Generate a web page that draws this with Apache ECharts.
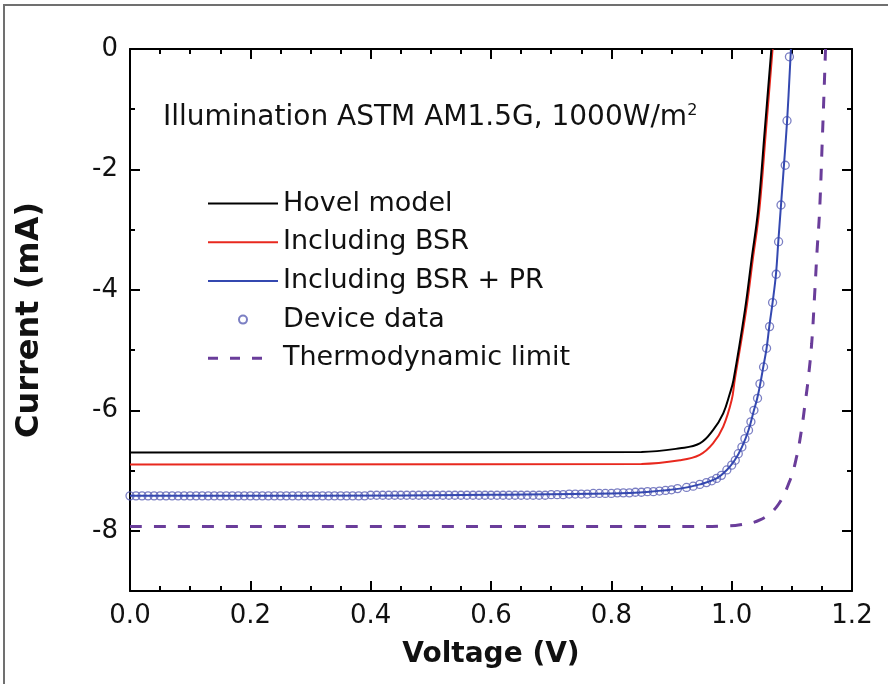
<!DOCTYPE html>
<html>
<head>
<meta charset="utf-8">
<script src="https://cdn.jsdelivr.net/npm/echarts@6/dist/echarts.min.js"></script>
<style>
  html, body { margin: 0; padding: 0; background: #fff; }
  #main { width: 888px; height: 684px; }
</style>
</head>
<body>
<div id="main"></div>
<script>
// 曲線資料 [電壓 V, 電流 mA]
var hovelModel = [[0, -6.70], [0.85, -6.69], [0.914, -6.63], [0.947, -6.55], [0.969, -6.33], [0.986, -6.05],
  [0.997, -5.72], [1.003, -5.50], [1.022, -4.34], [1.033, -3.50], [1.044, -2.67], [1.055, -1.35], [1.066, 0]];

var includingBSR = [[0, -6.90], [0.85, -6.89], [0.914, -6.83], [0.947, -6.74], [0.969, -6.55], [0.986, -6.27],
  [1.0, -5.83], [1.005, -5.50], [1.024, -4.34], [1.035, -3.50], [1.046, -2.67], [1.057, -1.35], [1.068, 0]];

var includingBSRPR = [[0, -7.42], [0.3, -7.42], [0.6, -7.40], [0.8, -7.38], [0.864, -7.35], [0.914, -7.30],
  [0.947, -7.23], [0.975, -7.13], [0.992, -6.99], [1.005, -6.83], [1.017, -6.61], [1.028, -6.33], [1.037, -6.00],
  [1.0425, -5.80], [1.0475, -5.56], [1.0525, -5.28], [1.058, -4.97], [1.0625, -4.61], [1.068, -4.21],
  [1.0736, -3.74], [1.0775, -3.20], [1.082, -2.59], [1.0875, -1.85], [1.0925, -1.13], [1.0985, 0]];

var thermoLimit = [[0, -7.93], [0.95, -7.93], [0.99, -7.92], [1.014, -7.90], [1.047, -7.82], [1.075, -7.60],
  [1.097, -7.16], [1.108, -6.77], [1.116, -6.33], [1.122, -5.89], [1.127, -5.50], [1.133, -4.89], [1.138, -4.06],
  [1.142, -3.34], [1.146, -2.72], [1.1505, -1.55], [1.155, -0.30], [1.156, 0]];

// 元件量測點
var deviceVoltage = [
  0.00, 0.01, 0.02, 0.03, 0.04, 0.05, 0.06, 0.07, 0.08, 0.09,
  0.10, 0.11, 0.12, 0.13, 0.14, 0.15, 0.16, 0.17, 0.18, 0.19,
  0.20, 0.21, 0.22, 0.23, 0.24, 0.25, 0.26, 0.27, 0.28, 0.29,
  0.30, 0.31, 0.32, 0.33, 0.34, 0.35, 0.36, 0.37, 0.38, 0.39,
  0.40, 0.41, 0.42, 0.43, 0.44, 0.45, 0.46, 0.47, 0.48, 0.49,
  0.50, 0.51, 0.52, 0.53, 0.54, 0.55, 0.56, 0.57, 0.58, 0.59,
  0.60, 0.61, 0.62, 0.63, 0.64, 0.65, 0.66, 0.67, 0.68, 0.69,
  0.70, 0.71, 0.72, 0.73, 0.74, 0.75, 0.76, 0.77, 0.78, 0.79,
  0.80, 0.81, 0.82, 0.83, 0.84, 0.85, 0.86, 0.87, 0.88, 0.89,
  0.90, 0.91,
  0.925, 0.936, 0.947, 0.958, 0.967, 0.975, 0.983, 0.992, 1.000, 1.006,
  1.011, 1.017, 1.022, 1.028, 1.032, 1.037, 1.043, 1.047, 1.053, 1.058,
  1.063, 1.068, 1.074, 1.078, 1.082, 1.089, 1.092, 1.096];
var deviceCurrent = [
  -7.42, -7.42, -7.42, -7.42, -7.42, -7.42, -7.42, -7.42, -7.42, -7.42,
  -7.42, -7.42, -7.42, -7.42, -7.42, -7.42, -7.42, -7.42, -7.42, -7.42,
  -7.42, -7.42, -7.42, -7.42, -7.42, -7.42, -7.42, -7.42, -7.42, -7.42,
  -7.42, -7.42, -7.42, -7.42, -7.42, -7.42, -7.42, -7.42, -7.42, -7.42,
  -7.41, -7.41, -7.41, -7.41, -7.41, -7.41, -7.41, -7.41, -7.41, -7.41,
  -7.41, -7.41, -7.41, -7.41, -7.41, -7.41, -7.41, -7.41, -7.41, -7.41,
  -7.41, -7.41, -7.41, -7.41, -7.41, -7.41, -7.41, -7.41, -7.41, -7.41,
  -7.40, -7.40, -7.40, -7.39, -7.39, -7.39, -7.39, -7.38, -7.38, -7.38,
  -7.38, -7.37, -7.37, -7.37, -7.36, -7.36, -7.35, -7.35, -7.34, -7.33,
  -7.32, -7.30,
  -7.28, -7.26, -7.23, -7.20, -7.17, -7.13, -7.08, -6.99, -6.91, -6.83,
  -6.72, -6.61, -6.47, -6.33, -6.19, -6.00, -5.80, -5.56, -5.28, -4.97,
  -4.61, -4.21, -3.74, -3.20, -2.59, -1.93, -1.19, -0.13];

var seriesNames = ['Hovel model', 'Including BSR', 'Including BSR + PR', 'Device data', 'Thermodynamic limit'];
var yMajorTicks = [0, -2, -4, -6, -8];
var yMinorTicks = [-1, -3, -5, -7, -9];

var deviceData = deviceVoltage.map(function (v, i) { return [v, deviceCurrent[i]]; });

var chart = echarts.init(document.getElementById('main'));
var FONT = 'DejaVu Sans';

// 圖例圖示：實線與虛線（不帶圓點）
var solidIcon = 'path://M0,0h70v2h-70z';
var dashIcon = 'path://M0,0h10v3h-10z M22,0h10v3h-10z M44,0h10v3h-10z M70,3';

function xAxisCfg(pos, showLabel) {
  return {
    type: 'value', position: pos, min: 0, max: 1.2, interval: 0.2,
    axisLine: { show: true, onZero: false, lineStyle: { color: '#000', width: 2 } },
    axisTick: { show: true, inside: true, length: 10, lineStyle: { color: '#000', width: 2 } },
    minorTick: { show: true, splitNumber: 4, length: 5, lineStyle: { color: '#000', width: 2 } },
    splitLine: { show: false },
    axisLabel: {
      show: showLabel, margin: 12, fontSize: 26, color: '#111', fontFamily: FONT,
      formatter: function (v) { return v.toFixed(1); }
    },
    name: showLabel ? 'Voltage (V)' : '',
    nameLocation: 'middle', nameGap: 50,
    nameTextStyle: { fontSize: 28, fontWeight: 'bold', color: '#111', fontFamily: FONT }
  };
}

function yAxisCfg(pos, ticks, len, showLabel, showLine) {
  return {
    type: 'value', position: pos, min: -9, max: 0, interval: 1, offset: 0,
    axisLine: { show: showLine, onZero: false, lineStyle: { color: '#000', width: 2 } },
    axisTick: { show: true, inside: true, length: len, customValues: ticks, lineStyle: { color: '#000', width: 2 } },
    splitLine: { show: false },
    axisLabel: {
      show: showLabel, margin: 12, fontSize: 26, color: '#111', fontFamily: FONT,
      formatter: function (v) { return v % 2 === 0 ? String(v) : ''; }
    },
    name: showLabel ? 'Current (mA)' : '',
    nameLocation: 'middle', nameGap: 84, nameRotate: 90,
    nameTextStyle: { fontSize: 32, fontWeight: 'bold', color: '#111', fontFamily: FONT }
  };
}

var option = {
  animation: false,
  backgroundColor: '#fff',
  textStyle: { fontFamily: FONT },
  grid: { left: 130, right: 36, top: 49, bottom: 93, containLabel: false, outerBoundsMode: 'none' },
  graphic: [
    {
      type: 'rect', x: 4, y: 5, silent: true,
      shape: { x: 0, y: 0, width: 900, height: 700 },
      style: { fill: 'none', stroke: '#707070', lineWidth: 2 }
    },
    {
      type: 'text', x: 163, y: 118, silent: true,
      style: {
        text: '{a|Illumination ASTM AM1.5G, 1000W/m}{s|2}',
        verticalAlign: 'middle',
        rich: {
          a: { fontSize: 28, fontFamily: FONT, fill: '#111', lineHeight: 30 },
          s: { fontSize: 16, fontFamily: FONT, fill: '#111', lineHeight: 16, verticalAlign: 'top' }
        }
      }
    }
  ],
  legend: {
    data: [
      { name: seriesNames[0], icon: solidIcon },
      { name: seriesNames[1], icon: solidIcon },
      { name: seriesNames[2], icon: solidIcon },
      { name: seriesNames[3] },
      { name: seriesNames[4], icon: dashIcon }
    ],
    orient: 'vertical',
    left: 208, top: 190,
    padding: 0,
    itemWidth: 70, itemHeight: 8, itemGap: 11.7,
    textStyle: { fontSize: 27, color: '#111', fontFamily: FONT },
    selectedMode: false
  },
  xAxis: [xAxisCfg('bottom', true), xAxisCfg('top', false)],
  yAxis: [
    yAxisCfg('left', yMajorTicks, 10, true, true),
    yAxisCfg('right', yMajorTicks, 10, false, true),
    yAxisCfg('left', yMinorTicks, 5, false, false),
    yAxisCfg('right', yMinorTicks, 5, false, false)
  ],
  series: [
    {
      name: 'Thermodynamic limit', type: 'line', data: thermoLimit,
      symbol: 'none', smooth: 0.4, z: 2,
      lineStyle: { color: '#6a3d9a', width: 3, type: [12, 12] },
      itemStyle: { color: '#6a3d9a' }
    },
    {
      name: 'Including BSR', type: 'line', data: includingBSR,
      symbol: 'none', smooth: 0.4, z: 3,
      lineStyle: { color: '#e8281e', width: 2 },
      itemStyle: { color: '#e8281e' }
    },
    {
      name: 'Hovel model', type: 'line', data: hovelModel,
      symbol: 'none', smooth: 0.4, z: 4,
      lineStyle: { color: '#000', width: 2 },
      itemStyle: { color: '#000' }
    },
    {
      name: 'Device data', type: 'scatter', data: deviceData,
      symbol: 'circle', symbolSize: 8, z: 5,
      itemStyle: { color: 'rgba(255,255,255,0)', borderColor: '#5a5fb4', borderWidth: 1.3 }
    },
    {
      name: 'Including BSR + PR', type: 'line', data: includingBSRPR,
      symbol: 'none', smooth: 0.4, z: 6,
      lineStyle: { color: '#3448b0', width: 2 },
      itemStyle: { color: '#3448b0' }
    }
  ]
};

chart.setOption(option);
</script>
</body>
</html>
